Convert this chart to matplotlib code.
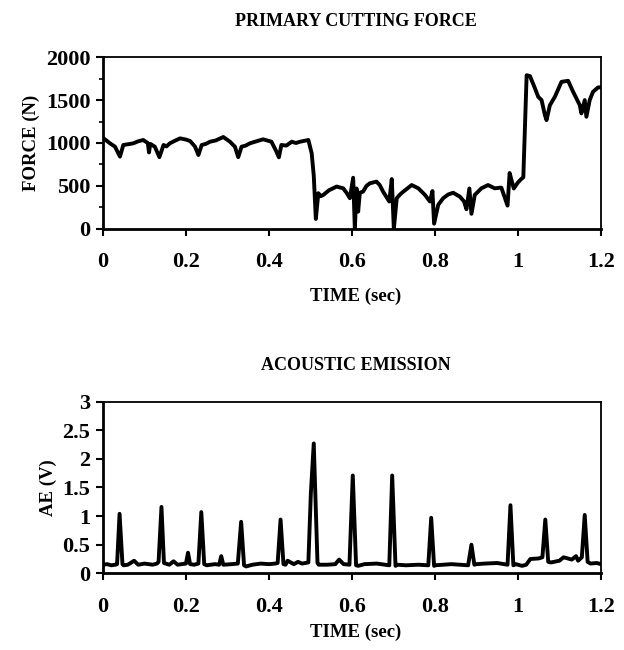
import numpy as np
import matplotlib
matplotlib.use("Agg")
import matplotlib.pyplot as plt
from matplotlib.ticker import MultipleLocator

# Primary cutting force
force_t = [0.0, 0.008, 0.017, 0.029, 0.041, 0.049, 0.060, 0.073, 0.085, 0.097, 0.108,
           0.111, 0.114, 0.125, 0.136, 0.146, 0.153, 0.161, 0.175, 0.186, 0.200,
           0.210, 0.222, 0.230, 0.238, 0.248, 0.258, 0.272, 0.290, 0.306, 0.318,
           0.326, 0.334, 0.344, 0.354, 0.370, 0.386, 0.406, 0.418, 0.424, 0.430,
           0.442, 0.455, 0.465, 0.475, 0.495, 0.503, 0.508, 0.513, 0.519, 0.525,
           0.531, 0.545, 0.563, 0.579, 0.587, 0.595, 0.603, 0.607, 0.611, 0.615,
           0.619, 0.627, 0.635, 0.643, 0.659, 0.667, 0.675, 0.690, 0.696, 0.701,
           0.708, 0.716, 0.724, 0.744, 0.760, 0.776, 0.788, 0.794, 0.798, 0.808,
           0.820, 0.832, 0.844, 0.860, 0.870, 0.876, 0.883, 0.888, 0.896, 0.912,
           0.928, 0.944, 0.960, 0.975, 0.980, 0.985, 0.990, 1.000, 1.008, 1.013,
           1.021, 1.029, 1.040, 1.049, 1.057, 1.065, 1.069, 1.077, 1.089, 1.105,
           1.121, 1.133, 1.149, 1.153, 1.161, 1.165, 1.173, 1.181, 1.193, 1.200]
force_n = [1060, 1030, 996, 957, 841, 977, 985, 996, 1020, 1035, 1000,
           890, 990, 957, 835, 977, 960, 996, 1030, 1054, 1040,
           1023, 957, 860, 977, 990, 1015, 1030, 1070, 1015, 957,
           835, 957, 970, 996, 1020, 1043, 1015, 900, 833, 977,
           970, 1015, 1000, 1015, 1035, 880, 620, 115, 415, 380,
           395, 450, 492, 472, 420, 357, 595, 0, 470, 200,
           420, 434, 500, 530, 550, 510, 434, 318, 580, 0,
           357, 400, 434, 510, 472, 395, 318, 440, 60, 280,
           357, 400, 420, 375, 320, 228, 470, 175, 395, 472,
           510, 472, 480, 270, 650, 560, 470, 540, 580, 600,
           1790, 1780, 1650, 1538, 1500, 1325, 1267, 1440, 1538, 1713,
           1725, 1597, 1442, 1345, 1500, 1306, 1500, 1597, 1647, 1650]

# Acoustic emission
ae_t = [0.0, 0.01, 0.02, 0.03, 0.034, 0.040, 0.047, 0.05, 0.06, 0.075, 0.085,
        0.10, 0.12, 0.13, 0.134, 0.141, 0.147, 0.16, 0.17, 0.18, 0.19, 0.20,
        0.205, 0.21, 0.22, 0.230, 0.237, 0.244, 0.25, 0.27, 0.28, 0.285, 0.29,
        0.31, 0.325, 0.333, 0.340, 0.345, 0.36, 0.38, 0.40, 0.415, 0.421, 0.428,
        0.435, 0.44, 0.445, 0.46, 0.47, 0.48, 0.495, 0.501, 0.508, 0.517, 0.52,
        0.54, 0.56, 0.569, 0.58, 0.594, 0.602, 0.610, 0.615, 0.63, 0.66, 0.68,
        0.690, 0.697, 0.705, 0.71, 0.73, 0.76, 0.784, 0.791, 0.798, 0.80, 0.82,
        0.84, 0.86, 0.88, 0.888, 0.895, 0.90, 0.92, 0.95, 0.975, 0.982, 0.989,
        0.995, 1.01, 1.02, 1.03, 1.05, 1.059, 1.066, 1.073, 1.08, 1.10, 1.11,
        1.13, 1.14, 1.145, 1.154, 1.161, 1.168, 1.175, 1.19, 1.2]
ae_v = [0.15, 0.16, 0.14, 0.15, 0.16, 1.04, 0.16, 0.14, 0.15, 0.22, 0.15,
        0.17, 0.15, 0.17, 0.20, 1.16, 0.18, 0.15, 0.21, 0.15, 0.16, 0.17,
        0.36, 0.16, 0.15, 0.17, 1.07, 0.16, 0.14, 0.16, 0.15, 0.30, 0.15,
        0.16, 0.17, 0.90, 0.14, 0.12, 0.15, 0.17, 0.16, 0.17, 0.18, 0.94,
        0.16, 0.15, 0.22, 0.16, 0.20, 0.17, 0.19, 1.40, 2.27, 0.18, 0.15,
        0.15, 0.16, 0.24, 0.16, 0.15, 1.71, 0.14, 0.13, 0.16, 0.17, 0.15,
        0.14, 1.71, 0.13, 0.15, 0.14, 0.15, 0.14, 0.97, 0.13, 0.14, 0.15,
        0.16, 0.15, 0.14, 0.50, 0.15, 0.16, 0.17, 0.18, 0.15, 1.19, 0.14,
        0.16, 0.13, 0.15, 0.25, 0.26, 0.28, 0.94, 0.20, 0.19, 0.22, 0.28,
        0.24, 0.30, 0.22, 0.28, 1.02, 0.20, 0.17, 0.18, 0.16]

plt.rcParams['font.family'] = ['Liberation Serif', 'DejaVu Serif']
plt.rcParams['font.weight'] = 'bold'
plt.rcParams['axes.labelweight'] = 'bold'

fig = plt.figure(figsize=(6.24, 6.5), dpi=100)
ax1 = fig.add_axes([0.165, 0.648, 0.798, 0.264])
ax2 = fig.add_axes([0.165, 0.118, 0.798, 0.264])

ax1.plot(force_t, force_n, color='black', lw=2.8, solid_joinstyle='round')
ax1.set_xlim(0, 1.2)
ax1.set_ylim(0, 2000)
ax1.yaxis.set_major_locator(MultipleLocator(500))
ax1.yaxis.set_minor_locator(MultipleLocator(250))

ax2.plot(ae_t, ae_v, color='black', lw=2.8, solid_joinstyle='round')
ax2.set_xlim(0, 1.2)
ax2.set_ylim(0, 3)
ax2.set_yticks([0, 0.5, 1, 1.5, 2, 2.5, 3])
ax2.set_yticklabels(['0', '0.5', '1', '1.5', '2', '2.5', '3'])

for ax in (ax1, ax2):
    ax.set_xticks([0, 0.2, 0.4, 0.6, 0.8, 1.0, 1.2])
    ax.set_xticklabels(['0', '0.2', '0.4', '0.6', '0.8', '1', '1.2'])
    ax.tick_params(which='major', direction='out', length=5, width=1.5,
                   labelsize=16, pad=4)
    ax.tick_params(which='minor', direction='out', length=3, width=1.2)
    ax.tick_params(axis='x', pad=12)
    for s in ('left', 'bottom'):
        ax.spines[s].set_linewidth(2.0)
    for s in ('top', 'right'):
        ax.spines[s].set_linewidth(1.3)

ax1.set_ylabel('FORCE (N)', fontsize=13.5, fontweight='bold', labelpad=4)
ax2.set_ylabel('AE (V)', fontsize=13.5, fontweight='bold', labelpad=4)

fig.text(0.57, 1 - 22 / 650, 'PRIMARY CUTTING FORCE', ha='center', va='center',
         fontsize=13, fontweight='bold')
fig.text(0.57, 1 - 296 / 650, 'TIME (sec)', ha='center', va='center',
         fontsize=13.5, fontweight='bold')
fig.text(0.57, 1 - 365 / 650, 'ACOUSTIC EMISSION', ha='center', va='center',
         fontsize=13, fontweight='bold')
fig.text(0.57, 1 - 632 / 650, 'TIME (sec)', ha='center', va='center',
         fontsize=13.5, fontweight='bold')

fig.savefig('out.png', dpi=100)
